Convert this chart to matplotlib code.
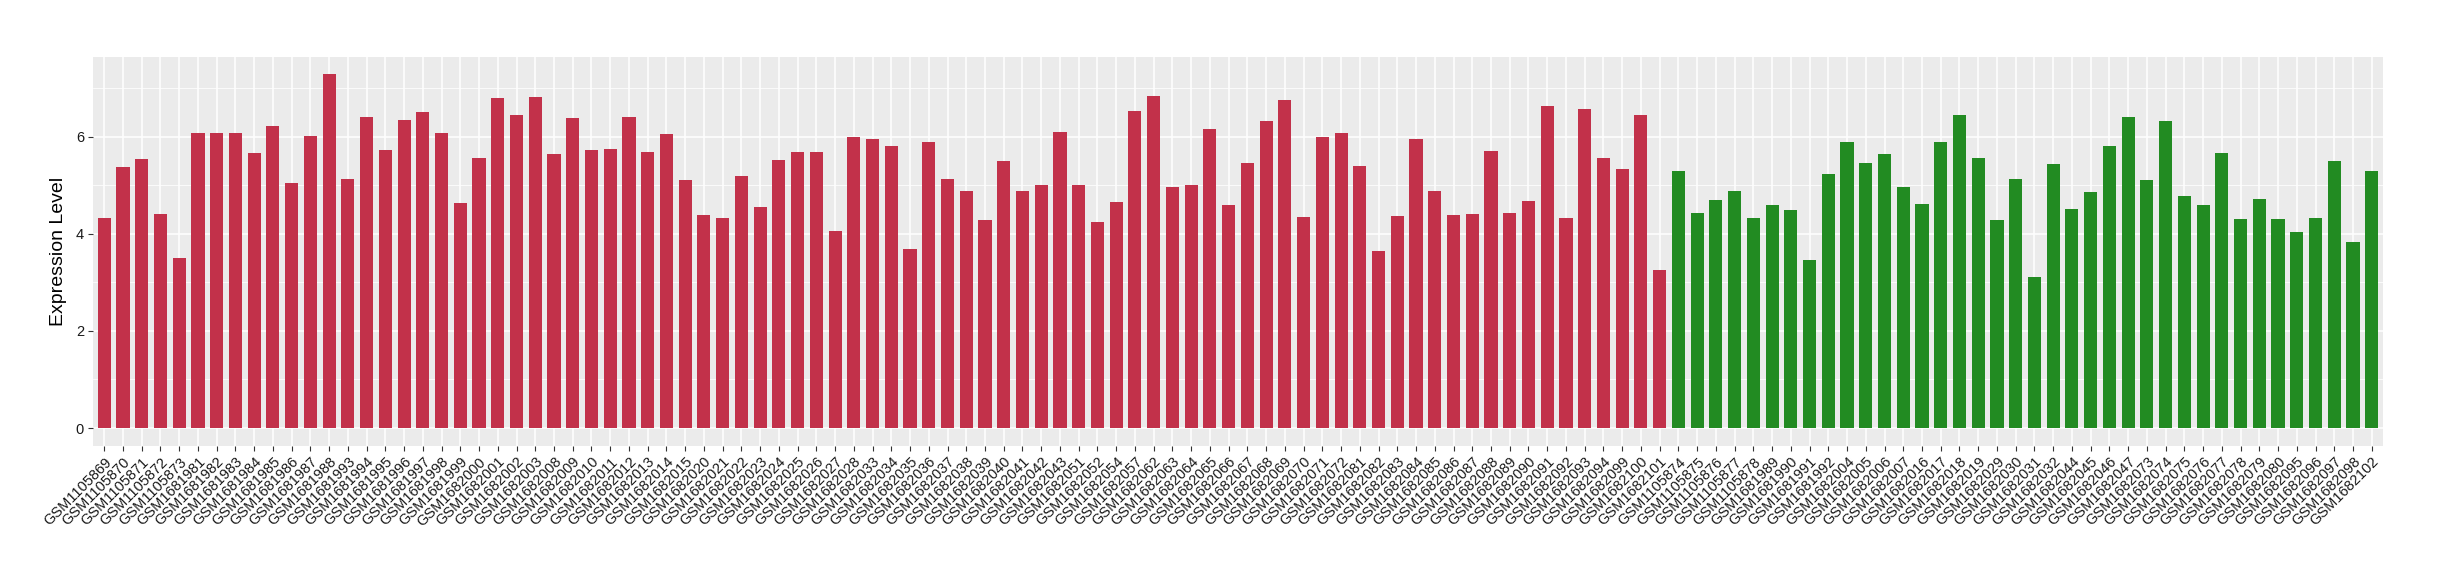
import matplotlib
matplotlib.use("Agg")
import matplotlib.pyplot as plt
from matplotlib.ticker import MultipleLocator

plt.rcParams['font.family'] = ['Liberation Sans', 'DejaVu Sans']

# group 1 samples (red)
red_samples = [
    "GSM1105869", "GSM1105870", "GSM1105871", "GSM1105872", "GSM1105873",
    "GSM1681981", "GSM1681982", "GSM1681983", "GSM1681984", "GSM1681985",
    "GSM1681986", "GSM1681987", "GSM1681988", "GSM1681993", "GSM1681994",
    "GSM1681995", "GSM1681996", "GSM1681997", "GSM1681998", "GSM1681999",
    "GSM1682000", "GSM1682001", "GSM1682002", "GSM1682003", "GSM1682008",
    "GSM1682009", "GSM1682010", "GSM1682011", "GSM1682012", "GSM1682013",
    "GSM1682014", "GSM1682015", "GSM1682020", "GSM1682021", "GSM1682022",
    "GSM1682023", "GSM1682024", "GSM1682025", "GSM1682026", "GSM1682027",
    "GSM1682028", "GSM1682033", "GSM1682034", "GSM1682035", "GSM1682036",
    "GSM1682037", "GSM1682038", "GSM1682039", "GSM1682040", "GSM1682041",
    "GSM1682042", "GSM1682043", "GSM1682051", "GSM1682052", "GSM1682054",
    "GSM1682057", "GSM1682062", "GSM1682063", "GSM1682064", "GSM1682065",
    "GSM1682066", "GSM1682067", "GSM1682068", "GSM1682069", "GSM1682070",
    "GSM1682071", "GSM1682072", "GSM1682081", "GSM1682082", "GSM1682083",
    "GSM1682084", "GSM1682085", "GSM1682086", "GSM1682087", "GSM1682088",
    "GSM1682089", "GSM1682090", "GSM1682091", "GSM1682092", "GSM1682093",
    "GSM1682094", "GSM1682099", "GSM1682100", "GSM1682101",
]
red_values = [
    4.32, 5.37, 5.53, 4.40, 3.50, 6.07, 6.07, 6.07, 5.66, 6.21,
    5.04, 6.01, 7.28, 5.12, 6.40, 5.72, 6.34, 6.50, 6.07, 4.63,
    5.55, 6.79, 6.44, 6.81, 5.64, 6.38, 5.72, 5.74, 6.40, 5.68,
    6.05, 5.10, 4.38, 4.32, 5.18, 4.55, 5.51, 5.68, 5.68, 4.05,
    5.99, 5.95, 5.80, 3.68, 5.88, 5.12, 4.88, 4.28, 5.49, 4.88,
    5.00, 6.09, 5.00, 4.24, 4.65, 6.52, 6.83, 4.96, 5.00, 6.15,
    4.59, 5.45, 6.32, 6.75, 4.34, 5.99, 6.07, 5.39, 3.64, 4.36,
    5.95, 4.88, 4.38, 4.40, 5.70, 4.42, 4.67, 6.62, 4.32, 6.56,
    5.55, 5.33, 6.44, 3.25,
]

# group 2 samples (green)
green_samples = [
    "GSM1105874", "GSM1105875", "GSM1105876", "GSM1105877", "GSM1105878",
    "GSM1681989", "GSM1681990", "GSM1681991", "GSM1681992", "GSM1682004",
    "GSM1682005", "GSM1682006", "GSM1682007", "GSM1682016", "GSM1682017",
    "GSM1682018", "GSM1682019", "GSM1682029", "GSM1682030", "GSM1682031",
    "GSM1682032", "GSM1682044", "GSM1682045", "GSM1682046", "GSM1682047",
    "GSM1682073", "GSM1682074", "GSM1682075", "GSM1682076", "GSM1682077",
    "GSM1682078", "GSM1682079", "GSM1682080", "GSM1682095", "GSM1682096",
    "GSM1682097", "GSM1682098", "GSM1682102",
]
green_values = [
    5.29, 4.42, 4.69, 4.88, 4.32, 4.59, 4.49, 3.46, 5.23, 5.88,
    5.45, 5.64, 4.96, 4.61, 5.88, 6.44, 5.55, 4.28, 5.12, 3.11,
    5.43, 4.51, 4.86, 5.80, 6.40, 5.10, 6.32, 4.77, 4.59, 5.66,
    4.30, 4.71, 4.30, 4.03, 4.32, 5.49, 3.83, 5.29,
]

red_color = "#C2314A"
green_color = "#228B22"

labels = red_samples + green_samples
values = red_values + green_values
colors = [red_color] * len(red_samples) + [green_color] * len(green_samples)
x = list(range(len(labels)))

fig = plt.figure(figsize=(24.4, 5.8), dpi=100)
ax = fig.add_axes([93 / 2440, 1 - 445.7 / 580, (2383 - 93) / 2440, (445.7 - 56.7) / 580])

ax.set_facecolor("#EBEBEB")
ax.bar(x, values, width=0.7, color=colors, zorder=3)

# ggplot style 5% padding
ax.set_ylim(-max(values) * 0.05, max(values) * 1.05)
ax.set_xlim(-0.6, len(labels) - 0.4)

ax.yaxis.set_major_locator(MultipleLocator(2))
ax.yaxis.set_minor_locator(MultipleLocator(1))
ax.set_xticks(x)
ax.set_xticklabels(labels, rotation=45, ha="right", va="top",
                   rotation_mode="anchor", fontsize=10.5, color="#1A1A1A")
ax.tick_params(axis="y", labelsize=10.5, colors="#333333", labelcolor="#1A1A1A",
               length=3.5, width=0.8, pad=3)
ax.tick_params(axis="x", colors="#333333", length=3.5, width=0.8, pad=3,
               labelcolor="#1A1A1A")
ax.tick_params(axis="y", which="minor", length=0)

ax.grid(which="major", color="white", linewidth=1.1, zorder=0)
ax.grid(which="minor", axis="y", color="white", linewidth=0.55, zorder=0)
ax.set_axisbelow(True)
for s in ax.spines.values():
    s.set_visible(False)

ax.set_ylabel("Expression Level", fontsize=14, labelpad=6)

fig.savefig("out.png", dpi=100)
